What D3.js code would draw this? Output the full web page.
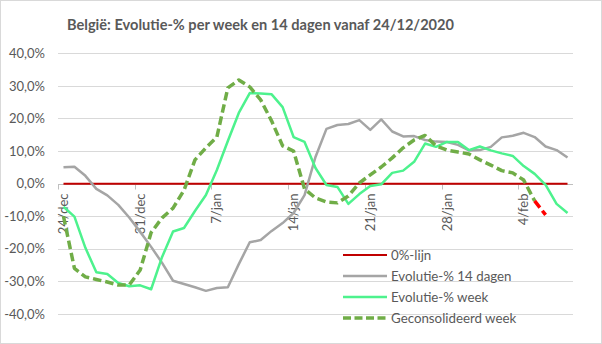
<!DOCTYPE html>
<html>
<head>
<meta charset="utf-8">
<script src="https://cdn.jsdelivr.net/npm/d3@7/dist/d3.min.js"></script>
<style>
  body { margin: 0; background: #fff; }
  svg { display: block; }
  text { font-family: Lato, "Open Sans", sans-serif; fill: #595959; }
</style>
</head>
<body>
<svg id="chart" width="602" height="344"></svg>
<script>
// Daily categories, 24 Dec 2020 – 8 Feb 2021
const dates = [
  "24/dec","25/dec","26/dec","27/dec","28/dec","29/dec","30/dec","31/dec",
  "1/jan","2/jan","3/jan","4/jan","5/jan","6/jan","7/jan","8/jan","9/jan","10/jan",
  "11/jan","12/jan","13/jan","14/jan","15/jan","16/jan","17/jan","18/jan","19/jan","20/jan",
  "21/jan","22/jan","23/jan","24/jan","25/jan","26/jan","27/jan","28/jan","29/jan","30/jan","31/jan",
  "1/feb","2/feb","3/feb","4/feb","5/feb","6/feb","7/feb","8/feb"
];
const dateTickLabels = ["24/dec","31/dec","7/jan","14/jan","21/jan","28/jan","4/feb"];
const yTickValues = [-40, -30, -20, -10, 0, 10, 20, 30, 40];

const seriesNames = ["0%-lijn", "Evolutie-% 14 dagen", "Evolutie-% week", "Geconsolideerd week"];

// Series values in %
const zeroLine = dates.map(() => 0);
const evolution14Days = [
  5.0, 5.2, 2.4, -1.6, -3.6, -6.5, -10.4, -14.8, -19.4, -24.3, -29.8, -30.8,
  -31.8, -32.9, -32.0, -31.8, -24.7, -18.0, -17.3, -14.5, -12.1, -9.0, -3.5, 8.2,
  16.8, 18.0, 18.3, 19.5, 16.5, 19.7, 16.0, 14.5, 14.6, 13.4, 12.9, 12.8,
  11.9, 10.2, 10.3, 11.3, 14.2, 14.7, 15.6, 14.3, 11.4, 10.3, 8.0
];
const evolutionWeek = [
  -7.1, -10.1, -19.7, -27.2, -27.7, -30.5, -31.5, -31.2, -32.4, -22.5, -14.7, -13.6,
  -8.4, -3.5, 4.2, 13.1, 21.7, 27.8, 27.7, 27.4, 23.5, 14.3, 12.8, 4.8,
  -0.4, -1.0, -6.2, -3.2, -0.7, -0.2, 3.3, 4.0, 6.7, 12.3, 11.3, 12.8,
  12.8, 10.3, 11.4, 10.2, 9.3, 8.5, 5.4, 3.0, -0.4, -6.2, -9.0
];
const consolidatedWeek = [
  -10.0, -26.0, -28.6, -29.4, -30.2, -31.1, -31.1, -26.5, -15.0, -10.5, -7.5, -2.0,
  7.3, 11.0, 14.3, 29.4, 31.8, 29.7, 25.7, 19.2, 11.6, 10.0, -1.6, -4.4,
  -5.6, -5.9, -3.8, 0.2, 2.7, 5.1, 7.9, 11.0, 13.4, 14.8, 11.6, 10.3,
  9.7, 9.1, 7.3, 5.7, 4.0, 3.3, 1.1, -5.3, -9.6
];
// index from which the consolidated series is still provisional (drawn in red)
const provisionalFrom = 43;

const svg = d3.select("#chart");
const W = 602, H = 344;
const plot = { left: 58, right: 573, top: 53.3, bottom: 314 };

svg.append("rect")
  .attr("x", 0.5).attr("y", 0.5).attr("width", W - 1).attr("height", H - 1)
  .attr("fill", "#fff").attr("stroke", "#D9D9D9");

const x = d3.scaleBand().domain(dates).range([plot.left, plot.right]).padding(0);
const cx = d => x(d) + x.bandwidth() / 2;
const y = d3.scaleLinear().domain([-40, 40]).range([plot.bottom, plot.top]);

// horizontal gridlines
svg.append("g").selectAll("line").data(yTickValues).join("line")
  .attr("x1", plot.left).attr("x2", plot.right)
  .attr("y1", d => Math.round(y(d)) + 0.5).attr("y2", d => Math.round(y(d)) + 0.5)
  .attr("stroke", "#D9D9D9").attr("stroke-width", 1);

// y axis labels
const fmtPct = d => (d < 0 ? "-" : "") + Math.abs(d).toFixed(1).replace(".", ",") + "%";
const yAxis = d3.axisLeft(y).tickValues(yTickValues).tickFormat(fmtPct).tickSize(0).tickPadding(0);
const gy = svg.append("g").attr("transform", `translate(45,0)`).call(yAxis);
gy.select(".domain").remove();
gy.selectAll("text").attr("font-size", 13).attr("font-family", "Lato, sans-serif").attr("fill", "#595959");

// horizontal axis at 0 with tick marks every week
const y0 = Math.round(y(0)) + 0.5;
svg.append("line").attr("x1", plot.left).attr("x2", plot.right)
  .attr("y1", y0).attr("y2", y0).attr("stroke", "#BFBFBF");
svg.append("g").selectAll("line").data(dateTickLabels).join("line")
  .attr("x1", d => Math.round(x(d)) + 0.5).attr("x2", d => Math.round(x(d)) + 0.5)
  .attr("y1", y0).attr("y2", y0 + 5).attr("stroke", "#BFBFBF");
svg.append("g").selectAll("text").data(dateTickLabels).join("text")
  .attr("transform", d => `translate(${cx(d)},${y0 + 9}) rotate(-90)`)
  .attr("text-anchor", "end").attr("dy", "0.35em")
  .attr("font-size", 13)
  .text(d => d);

// series lines
const line = d3.line().x((v, i) => cx(dates[i])).y(v => y(v)).defined(v => v != null);

svg.append("path").datum(zeroLine).attr("d", line)
  .attr("fill", "none").attr("stroke", "#C00000").attr("stroke-width", 2);
svg.append("path").datum(evolution14Days).attr("d", line)
  .attr("fill", "none").attr("stroke", "#A5A5A5").attr("stroke-width", 2.5)
  .attr("stroke-linejoin", "round");
svg.append("path").datum(evolutionWeek).attr("d", line)
  .attr("fill", "none").attr("stroke", "#4DF28D").attr("stroke-width", 2.5)
  .attr("stroke-linejoin", "round");

const consolidatedMain = consolidatedWeek.map((v, i) => i <= provisionalFrom ? v : null);
const consolidatedLast = consolidatedWeek.map((v, i) => i >= provisionalFrom ? v : null);
svg.append("path").datum(consolidatedMain).attr("d", line)
  .attr("fill", "none").attr("stroke", "#70AD47").attr("stroke-width", 3.5)
  .attr("stroke-dasharray", "8.5,4").attr("stroke-linejoin", "round");
svg.append("path").datum(consolidatedLast).attr("d", line)
  .attr("fill", "none").attr("stroke", "#FF0000").attr("stroke-width", 3.5)
  .attr("stroke-dasharray", "8.5,4");

// legend
const legendStyles = [
  { color: "#C00000", width: 2, dash: null },
  { color: "#A5A5A5", width: 2.5, dash: null },
  { color: "#4DF28D", width: 2.5, dash: null },
  { color: "#70AD47", width: 3.5, dash: "8,3.5" }
];
const legend = svg.append("g");
seriesNames.forEach((name, i) => {
  const ly = 255 + i * 21;
  legend.append("line").attr("x1", 343).attr("x2", 387).attr("y1", ly).attr("y2", ly)
    .attr("stroke", legendStyles[i].color).attr("stroke-width", legendStyles[i].width)
    .attr("stroke-dasharray", legendStyles[i].dash);
  legend.append("text").attr("x", 391).attr("y", ly).attr("dy", "0.35em")
    .attr("font-size", 13.3).text(name);
});

// title
svg.append("text").attr("x", 67).attr("y", 29.5)
  .attr("font-size", 15).attr("font-weight", "bold")
  .attr("textLength", 387).attr("lengthAdjust", "spacingAndGlyphs")
  .text("België:  Evolutie-% per week en 14 dagen vanaf 24/12/2020");
</script>
</body>
</html>
